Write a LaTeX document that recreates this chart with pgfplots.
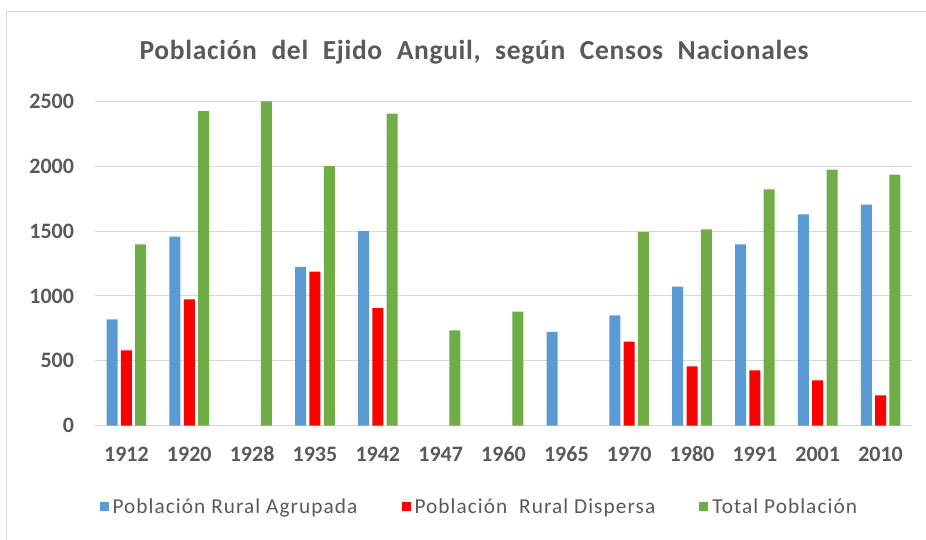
\documentclass[border=0pt]{standalone}
\usepackage{fontspec}
\setmainfont{Carlito}
\usepackage{pgfplots}
\pgfplotsset{compat=1.18}
\definecolor{cblue}{RGB}{91,155,213}
\definecolor{cred}{RGB}{255,0,0}
\definecolor{cgreen}{RGB}{112,173,71}
\definecolor{ctext}{RGB}{89,89,89}
\definecolor{cgrid}{RGB}{217,217,217}
\begin{document}
\begin{tikzpicture}[x=1pt,y=1pt]
\useasboundingbox (-95,-114.3) rectangle (831,425.7);
\draw[cgrid, line width=1pt] (-88,-114.3) -- (-88,413.7) -- (831,413.7);
\node[text=ctext, font=\bfseries\fontsize{27.5}{31}\selectfont\addfontfeatures{LetterSpace=2.5}] at (379,373.7) {Población\hspace{14.5pt}del\hspace{14.5pt}Ejido\hspace{14.5pt}Anguil,\hspace{14.5pt}según\hspace{14.5pt}Censos\hspace{14.5pt}Nacionales};
\begin{axis}[
  scale only axis, width=817pt, height=324.4pt,
  xmin=-0.5, xmax=12.5, ymin=0, ymax=2500,
  ybar=3.3pt, bar width=11pt,
  xtick={0,...,12},
  xticklabels={1912,1920,1928,1935,1942,1947,1960,1965,1970,1980,1991,2001,2010},
  ytick={0,500,...,2500},
  major tick length=0pt,
  axis line style={draw=none},
  ymajorgrids, grid style={cgrid, line width=1pt},
  /pgf/number format/assume math mode=true,
  /pgf/number format/set thousands separator={},
  ticklabel style={text=ctext, font=\bfseries\fontsize{22}{26}\selectfont},
  xticklabel style={anchor=base, yshift=-36pt},
  yticklabel style={xshift=-17.5pt},
  legend style={at={(0.4716,-0.2506)}, anchor=center, draw=none, fill=none,
    legend columns=3, font=\fontsize{21.3}{25}\selectfont\addfontfeatures{LetterSpace=5}, text=ctext,
    nodes={inner xsep=4pt},
    /tikz/every even column/.append style={column sep=40pt}},
  legend image code/.code={\fill[#1] (0pt,-4.5pt) rectangle (9pt,4.5pt);},
]
\addplot[fill=cblue, draw=none] coordinates {(0,820) (1,1457) (3,1223) (4,1500) (7,724) (8,850) (9,1071) (10,1398) (11,1629) (12,1703)};
\addplot[fill=cred, draw=none] coordinates {(0,581) (1,974) (3,1187) (4,907) (8,647) (9,457) (10,426) (11,349) (12,234)};
\addplot[fill=cgreen, draw=none] coordinates {(0,1398) (1,2425) (2,2500) (3,2001) (4,2405) (5,735) (6,879) (8,1493) (9,1513) (10,1821) (11,1973) (12,1934)};
\legend{Población Rural Agrupada, Población\ \ Rural Dispersa, Total Población}
\end{axis}
\end{tikzpicture}
\end{document}
